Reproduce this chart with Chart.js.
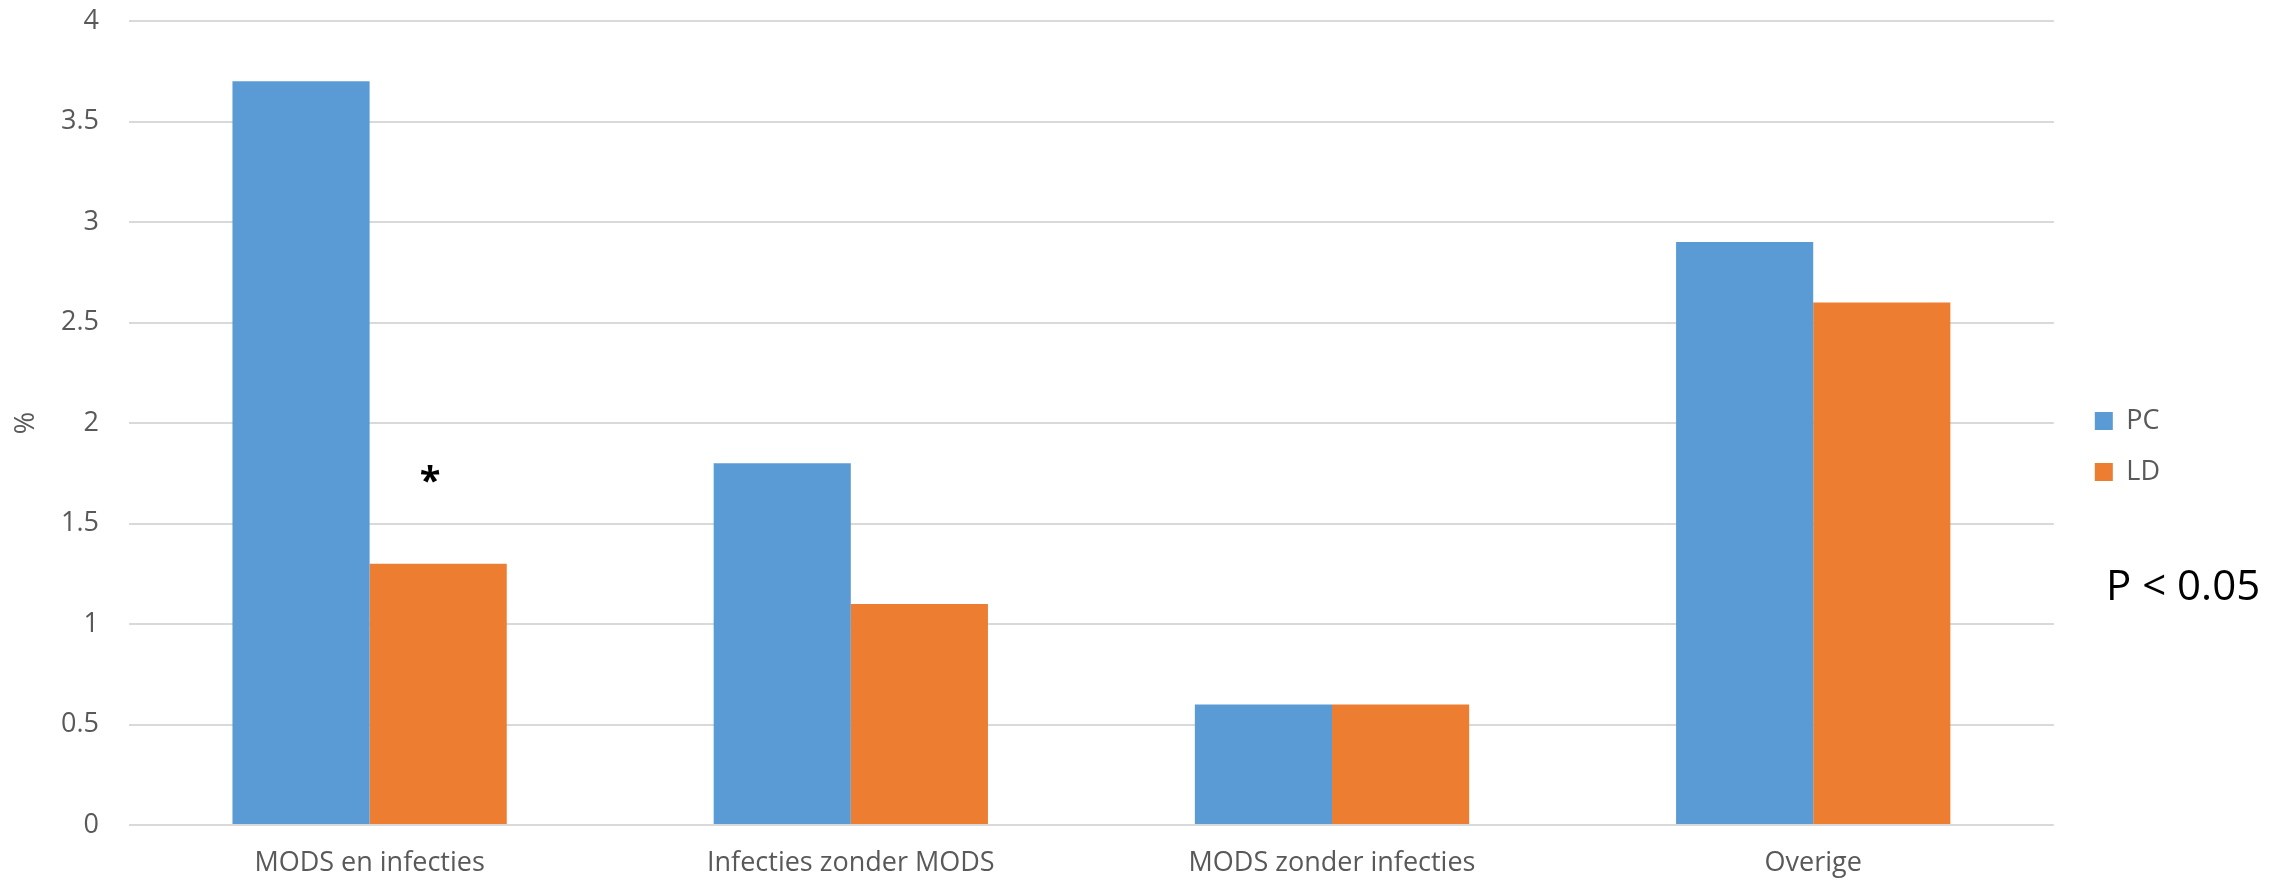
<!DOCTYPE html>
<html>
<head>
<meta charset="utf-8">
<script src="https://cdn.jsdelivr.net/npm/chart.js@4.4.1/dist/chart.umd.min.js"></script>
<style>
   html, body { margin: 0; padding: 0; background: #ffffff; }
   #wrap { position: relative; width: 2290px; height: 884px; }
</style>
</head>
<body>
<div id="wrap"><canvas id="chart__1" width="2290" height="884"></canvas></div>
<script>
// DATA
const categories = ["MODS en infecties", "Infecties zonder MODS", "MODS zonder infecties", "Overige"];
const valuesPC = [3.7, 1.8, 0.6, 2.9];
const valuesLD = [1.3, 1.1, 0.6, 2.6];
const yTicks = [0, 0.5, 1, 1.5, 2, 2.5, 3, 3.5, 4];
const significant = [true, false, false, false]; // * above LD bar
const pNote = "P < 0.05";

const FONT = "'Open Sans', 'Noto Sans', sans-serif";
const GREY = "#595959";

// asterisk over the significant LD bars + p-value note
const notesPlugin = {
   id: "notes",
   afterLayout(chart) {
      // push legend a bit further from the plot
      chart.legend.left += 17;
      chart.legend.right += 17;
      chart.legend.top -= 6;
      chart.legend.bottom -= 6;
   },
   afterDatasetsDraw(chart) {
      const ctx = chart.ctx;
      const meta = chart.getDatasetMeta(1);
      const y = chart.scales.y;
      ctx.save();
      ctx.fillStyle = "#000000";
      ctx.textAlign = "center";
      ctx.textBaseline = "alphabetic";
      ctx.font = "bold 38px " + FONT;
      significant.forEach((s, i) => {
         if (!s) return;
         const bar = meta.data[i];
         ctx.fillText("*", bar.x - 8, y.getPixelForValue(valuesLD[i]) - 70);
      });
      ctx.font = "42px " + FONT;
      ctx.textAlign = "left";
      ctx.fillText(pNote, 2106, 600);
      ctx.restore();
   },
};

const ctx1 = document.getElementById("chart__1").getContext("2d");
window.chart1 = new Chart(ctx1, {
   type: "bar",
   data: {
      labels: categories,
      datasets: [
         {
            label: "PC",
            data: valuesPC,
            backgroundColor: "#5B9BD5",
            borderWidth: 0,
         },
         {
            label: "LD",
            data: valuesLD,
            backgroundColor: "#ED7D31",
            borderWidth: 0,
         },
      ],
   },
   options: {
      responsive: false,
      animation: false,
      layout: { padding: { top: 21, left: 10, right: 137, bottom: 0 } },
      datasets: { bar: { categoryPercentage: 0.57, barPercentage: 1 } },
      plugins: {
         tooltip: { enabled: false },
         legend: {
            position: "right",
            align: "center",
            labels: {
               boxWidth: 18,
               boxHeight: 18,
               padding: 24,
               color: GREY,
               font: { family: FONT, size: 27 },
            },
         },
      },
      scales: {
         x: {
            grid: { display: false, drawTicks: false },
            border: { display: false },
            ticks: {
               color: GREY,
               padding: 22,
               font: { family: FONT, size: 27 },
            },
            afterFit(scale) {
               scale.height = 59;
            },
         },
         y: {
            min: 0,
            max: 4,
            afterBuildTicks(scale) {
               scale.ticks = yTicks.map((v) => ({ value: v }));
            },
            grid: { color: "#d9d9d9", lineWidth: 2, drawTicks: false },
            border: { display: false },
            ticks: {
               color: GREY,
               padding: 30,
               font: { family: FONT, size: 27 },
               callback: (v) => String(v),
            },
            title: {
               display: true,
               text: "%",
               color: GREY,
               padding: 0,
               font: { family: FONT, size: 27 },
            },
            afterFit(scale) {
               scale.width = 119;
               scale.paddingTop = 0;
               scale.paddingBottom = 0;
            },
         },
      },
   },
   plugins: [notesPlugin],
});
</script>
</body>
</html>
